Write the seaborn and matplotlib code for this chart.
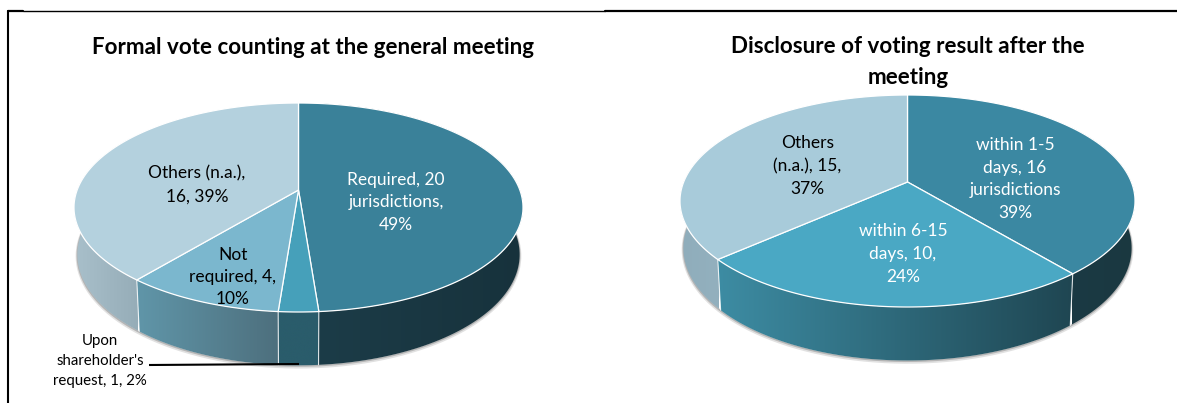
import numpy as np
import seaborn as sns
import matplotlib
matplotlib.use('Agg')
import matplotlib.pyplot as plt
from matplotlib.colors import LinearSegmentedColormap
from matplotlib.lines import Line2D
from matplotlib.patches import Polygon

# data
left_title = 'Formal vote counting at the general meeting'
left_values = [20, 1, 4, 16]
left_labels = ['Required, 20\njurisdictions,\n49%', "Upon\nshareholder's\nrequest, 1, 2%",
               'Not\nrequired, 4,\n10%', 'Others (n.a.),\n16, 39%']
right_title = 'Disclosure of voting result after the\nmeeting'
right_values = [16, 10, 15]
right_labels = ['within 1-5\ndays, 16\njurisdictions\n39%', 'within 6-15\ndays, 10,\n24%',
                'Others\n(n.a.), 15,\n37%']

# styles
left_top = ['#3a8199', '#46a0ba', '#7bb7ce', '#b4d1de']
left_wall = [('#1c3c48', '#17323c'), ('#2a5c6b', '#2a5c6b'), ('#6096a9', '#4d6f7d'), ('#a9c0cb', '#96adb8')]
right_top = ['#3b88a2', '#4aa8c4', '#a8cbda']
right_wall = [('#1b3a44', '#1a3840'), ('#3d8ca3', '#1f4652'), ('#8fadbb', '#93b0be')]

sns.set_theme(style='white')
plt.rcParams['font.family'] = ['Lato', 'DejaVu Sans']


def project(theta, cx, cy, up, down, half_width):
    # tilted circle, theta runs clockwise from twelve o'clock
    k = (down - up) / (down + up)
    a = up * (1 + k)
    b = half_width * np.sqrt(1 - k ** 2)
    t = np.radians(theta)
    d = 1 + k * np.cos(t)
    return b * np.sin(t) / d, -a * np.cos(t) / d


def draw_pie(ax, values, tops, walls, cx, cy, up, down, half_width):
    edges = np.concatenate([[0], np.cumsum(values)]) / sum(values) * 360

    def top_arc(t):
        x, y = project(t, cx, cy, up, down, half_width)
        return cx + x, cy + y

    def low_arc(t):
        x, y = project(t, cx, cy, up, down, half_width)
        return cx + x * 0.985, cy + y * 1.06 + 46

    # soft shadow under the rim
    t = np.linspace(70, 290, 200)
    lx, ly = low_arc(t)
    ax.plot(lx, ly + 1.5, color='#aaaaaa', lw=2.5, alpha=0.35, zorder=1)
    ax.plot(lx, ly + 0.7, color='#999999', lw=1.2, alpha=0.6, zorder=1)

    # side walls
    for i in range(len(values)):
        t = np.linspace(edges[i], edges[i + 1], 120)
        tx, ty = top_arc(t)
        lx, ly = low_arc(t)
        front = np.cos(np.radians(t)) < 0.1
        xmin, xmax = tx[front].min() - 1, tx[front].max() + 1
        cmap = LinearSegmentedColormap.from_list('wall', sns.blend_palette(walls[i], 16))
        img = ax.imshow(np.linspace(0, 1, 128)[None, :], cmap=cmap, aspect='auto', zorder=2,
                        extent=(xmin, xmax, ly.max() + 2, ty.min() - 2), interpolation='bilinear')
        poly = Polygon(np.column_stack([np.r_[tx, lx[::-1]], np.r_[ty, ly[::-1]]]),
                       transform=ax.transData, fc='none', ec='none')
        ax.add_patch(poly)
        img.set_clip_path(poly)

    # white seams on the wall
    for e in edges:
        if np.cos(np.radians(e)) < 0:
            tx, ty = top_arc(e)
            lx, ly = low_arc(e)
            ax.plot([tx, lx], [ty, ly], color='white', lw=0.8, alpha=0.8, zorder=3)

    # top faces
    for i in range(len(values)):
        t = np.linspace(edges[i], edges[i + 1], 120)
        tx, ty = top_arc(t)
        ax.fill(np.r_[cx, tx], np.r_[cy, ty], fc=tops[i], ec='white', lw=0.9, zorder=4, joinstyle='round')


fig = plt.figure(figsize=(11.77, 4.03), dpi=100)
ax1 = fig.add_axes([0, 0, 590 / 1177, 1])
ax2 = fig.add_axes([590 / 1177, 0, 587 / 1177, 1])

draw_pie(ax1, left_values, left_top, left_wall, 298.5, 190, 87, 122, 224.5)
draw_pie(ax2, right_values, right_top, right_wall, 907.5, 182, 87, 125, 227.5)

ax1.set_xlim(0, 590)
ax2.set_xlim(590, 1177)
for ax in (ax1, ax2):
    ax.set_ylim(403, 0)
    ax.axis('off')

ax1.set_title(left_title, x=313.5 / 590, y=1 - 47 / 403, va='center', fontsize=16.1,
              fontweight='bold', color='black', pad=0)
ax2.set_title(right_title, x=(908 - 590) / 587, y=1 - 62 / 403, va='center', fontsize=16.1,
              fontweight='bold', color='black', pad=0, linespacing=1.55)

# slice labels
left_pos = [(396, 202, 'white'), (100, 361, 'black'), (232.6, 277, 'black'), (197, 185, 'black')]
right_pos = [(1015, 179, 'white'), (903, 254, 'white'), (807.5, 166, 'black')]
for ax, labels, pos in ((ax1, left_labels, left_pos), (ax2, right_labels, right_pos)):
    for lab, (x, y, c) in zip(labels, pos):
        size = 10.8 if lab.startswith('Upon') else 12.5
        ax.text(x, y, lab, ha='center', va='center', color=c, fontsize=size,
                linespacing=1.5, zorder=6)

# leader line for the thin slice
ax1.plot([149, 299], [365, 364], color='black', lw=1.5, zorder=5, solid_capstyle='butt')

# frame fragments around the panels
for xs, ys, w in (([8.3, 8.3], [11, 403], 1.5), ([8, 23], [11, 11], 1.6),
                  ([23, 605], [10.6, 10.6], 1.0), ([605, 1177], [11, 11], 1.6)):
    fig.add_artist(Line2D(np.array(xs) / 1177, 1 - np.array(ys) / 403, color='black', lw=w))

fig.savefig('out.png', dpi=100)
